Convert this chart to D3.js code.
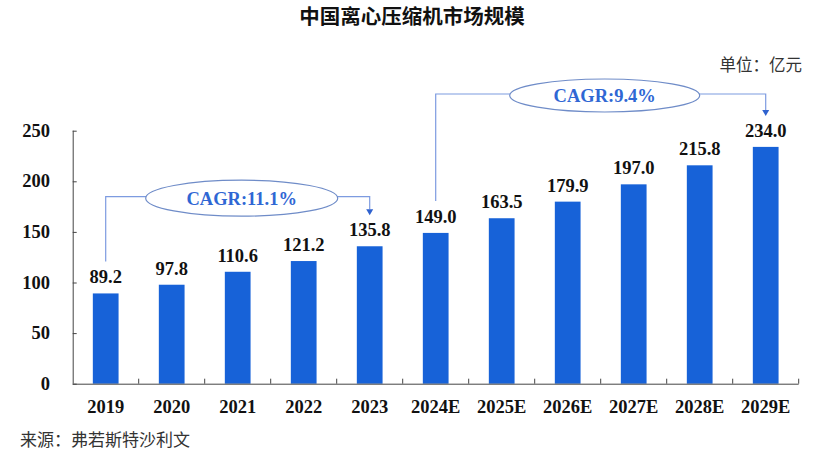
<!DOCTYPE html>
<html><head><meta charset="utf-8">
<script src="https://cdn.jsdelivr.net/npm/d3@7"></script>
<style>body{margin:0;background:#fff}svg{display:block}</style>
</head><body>
<svg id="c" width="830" height="453"></svg>
<script>
const years = ["2019","2020","2021","2022","2023","2024E","2025E","2026E","2027E","2028E","2029E"];
const values = [89.2,97.8,110.6,121.2,135.8,149.0,163.5,179.9,197.0,215.8,234.0];
const yTicks = [0,50,100,150,200,250];
const cagrLabels = ["CAGR:11.1%","CAGR:9.4%"];
const cagrFrom = ["2019","2024E"];
const cagrTo = ["2023","2029E"];
const titleText = "中国离心压缩机市场规模";
const unitText = "单位：亿元";
const sourceText = "来源：弗若斯特沙利文";

const svg = d3.select("#c");
const serif = "'Liberation Serif','Times New Roman',serif";
const cjk = "'Noto Sans CJK SC',sans-serif";
const x = d3.scaleBand().domain(years).range([72.7,798.7]).paddingInner(0.61).paddingOuter(0.305);
const xb = d3.scaleBand().domain(years).range([72.7,798.7]);
const y = d3.scaleLinear().domain([0,250]).range([383.7,130.7]);

svg.append("text").attr("x",412).attr("y",24).attr("text-anchor","middle")
  .style("font-family",cjk).style("font-weight","bold").style("font-size","20.5px").attr("fill","#111").text(titleText);
svg.append("text").attr("x",802).attr("y",71).attr("text-anchor","end")
  .style("font-family",cjk).style("font-size","16.5px").attr("fill","#333").text(unitText);
svg.append("text").attr("x",20).attr("y",446)
  .style("font-family",cjk).style("font-size","17px").attr("fill","#333").text(sourceText);

// bars
svg.selectAll("rect.bar").data(years).enter().append("rect")
  .attr("x",d=>x(d)).attr("width",x.bandwidth())
  .attr("y",(d,i)=>y(values[i])).attr("height",(d,i)=>y(0)-y(values[i]))
  .attr("fill","#1762d8");

// value labels
svg.selectAll("text.val").data(years).enter().append("text")
  .attr("x",d=>xb(d)+xb.bandwidth()/2).attr("y",(d,i)=>y(values[i])-10)
  .attr("text-anchor","middle").style("font-family",serif).style("font-weight","bold")
  .style("font-size","18.5px").attr("fill","#111").text((d,i)=>values[i].toFixed(1));

// axes
const yAxis = svg.append("g").attr("transform","translate(72.7,0)")
  .call(d3.axisRight(y).tickValues(yTicks).tickSize(4).tickFormat(""));
yAxis.select(".domain").attr("d",`M0.5,${y(250)}V${y(0)}`);
yAxis.selectAll("line").attr("stroke","#444");
yAxis.select(".domain").attr("stroke","#444");
svg.selectAll("text.yl").data(yTicks).enter().append("text")
  .attr("x",50).attr("y",d=>y(d)+6).attr("text-anchor","end")
  .style("font-family",serif).style("font-weight","bold").style("font-size","18.5px").attr("fill","#111").text(d=>d);

const xAxis = svg.append("g").attr("transform",`translate(0,${y(0)})`)
  .call(d3.axisTop(xb).tickSize(0).tickFormat(""));
xAxis.select(".domain").attr("d","M72.7,0.5H798.7").attr("stroke","#444");
const bounds = years.map(d=>xb(d)).concat([xb.range()[1]]);
svg.selectAll("line.xt").data(bounds.slice(1)).enter().append("line")
  .attr("x1",d=>d).attr("x2",d=>d).attr("y1",y(0)-5).attr("y2",y(0)).attr("stroke","#444");
svg.selectAll("text.xl").data(years).enter().append("text")
  .attr("x",d=>xb(d)+xb.bandwidth()/2).attr("y",413).attr("text-anchor","middle")
  .style("font-family",serif).style("font-weight","bold").style("font-size","18.5px").attr("fill","#111").text(d=>d);

// CAGR annotations
const lineCol = "#7d9be0";
const annY = [196.7, 94];
const ellRy = [18, 16.5];
const ellRx = [96, 95];
cagrLabels.forEach((lab,k)=>{
  const fi = years.indexOf(cagrFrom[k]), ti = years.indexOf(cagrTo[k]);
  const x1 = xb(cagrFrom[k])+xb.bandwidth()/2;
  const x2 = xb(cagrTo[k])+xb.bandwidth()/2;
  const yStart = y(values[fi]) - 32;
  const yTip = y(values[ti]) - 31;
  const ly = annY[k];
  const cx = (x1+x2)/2 + 4;
  const g = svg.append("g");
  g.append("path").attr("d",`M${x1},${yStart}V${ly}H${x2}V${yTip-6}`)
    .attr("fill","none").attr("stroke",lineCol).attr("stroke-width",1.2);
  g.append("path").attr("d",`M${x2-3.5},${yTip-6}L${x2+3.5},${yTip-6}L${x2},${yTip}Z`).attr("fill","#2f62cf");
  g.append("ellipse").attr("cx",cx).attr("cy",ly+1.5).attr("rx",ellRx[k]).attr("ry",ellRy[k])
    .attr("fill","#fff").attr("stroke","#6f8cc8").attr("stroke-width",1.2);
  g.append("text").attr("x",cx).attr("y",ly+8).attr("text-anchor","middle")
    .style("font-family",serif).style("font-weight","bold").style("font-size","18.5px")
    .attr("fill","#2f67d4").text(lab);
});
</script>
</body></html>
